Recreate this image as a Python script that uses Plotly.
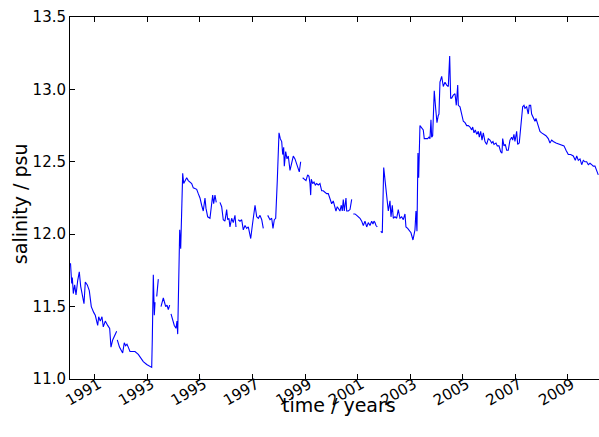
import datetime as dt
import plotly.graph_objects as go

# decimal years (None marks a gap in the record)
years = [
    1990.071, 1990.117, 1990.140, 1990.178, 1990.231, 1990.281, 1990.345, 1990.406, 1990.459, 1990.536,
    1990.585, 1990.635, 1990.711, 1990.787, 1990.863, 1990.954, 1991.015, 1991.107, 1991.145, 1991.206,
    1991.270, 1991.320, 1991.396, 1991.487, 1991.563, 1991.613, 1991.678, 1991.830, None,
    1991.853, 1991.936, 1992.058, 1992.119, 1992.172, 1992.222, 1992.271, 1992.336, 1992.450, 1992.526,
    1992.652, 1992.717, 1992.842, 1992.972, 1993.097, 1993.162, 1993.185, 1993.223, 1993.261, 1993.288, None,
    1993.353, 1993.391, 1993.413, None,
    1993.516, 1993.604, 1993.649, 1993.695, 1993.745, 1993.794, 1993.847, None,
    1993.897, 1993.946, 1994.022, 1994.087, 1994.125, 1994.152, 1994.201, 1994.228, 1994.266, 1994.304,
    1994.342, 1994.380, 1994.430, 1994.494, 1994.555, 1994.620, 1994.685, 1994.746, 1994.875, 1994.936,
    1995.001, 1995.065, 1995.126, 1995.191, 1995.229, 1995.294, 1995.343, 1995.381, 1995.446, 1995.484,
    1995.522, 1995.572, 1995.621, None,
    1995.762, 1995.827, 1995.888, 1995.952, 1996.017, 1996.055, 1996.104, 1996.142, 1996.207, 1996.268,
    1996.333, 1996.371, None,
    1996.459, 1996.523, 1996.588, 1996.649, 1996.714, 1996.778, 1996.839, 1996.931, 1996.992, 1997.045,
    1997.095, 1997.159, 1997.220, 1997.285, 1997.350, 1997.410, None,
    1997.578, 1997.665, 1997.730, 1997.779, 1997.829, 1997.882, 1997.943, 1998.008, 1998.057, 1998.111,
    1998.149, 1998.187, 1998.210, 1998.263, 1998.313, 1998.362, 1998.427, 1998.491, 1998.552, 1998.617,
    1998.682, 1998.743, 1998.781, 1998.834, None,
    1998.910, 1998.971, 1999.036, 1999.100, 1999.150, 1999.188, 1999.215, 1999.238, 1999.291, 1999.341,
    1999.390, 1999.443, 1999.504, 1999.569, 1999.634, 1999.694, 1999.759, 1999.824, 1999.885, 1999.950,
    2000.014, 2000.075, 2000.140, 2000.178, 2000.227, 2000.281, 2000.330, 2000.380, 2000.418, 2000.456,
    2000.494, 2000.558, 2000.585, 2000.646, 2000.711, 2000.775, None,
    2000.836, 2000.901, 2000.966, 2001.027, 2001.091, 2001.156, 2001.217, 2001.281, 2001.346, 2001.407,
    2001.472, 2001.536, 2001.586, 2001.624, 2001.662, 2001.700, 2001.750, None,
    2001.879, 2001.940, 2001.994, 2002.108, 2002.169, 2002.233, 2002.271, 2002.321, 2002.359, 2002.424,
    2002.488, 2002.549, 2002.614, 2002.679, 2002.740, 2002.804, 2002.842, 2002.907, 2002.956, 2003.033,
    2003.109, 2003.185, 2003.223, 2003.261, 2003.299, 2003.326, 2003.375, 2003.440, 2003.501, 2003.539,
    2003.592, 2003.668, 2003.718, 2003.756, 2003.794, 2003.821, 2003.859, 2003.920, 2003.973, 2004.023,
    2004.072, 2004.099, 2004.137, 2004.202, 2004.263, 2004.327, 2004.392, 2004.453, 2004.506, 2004.544,
    2004.582, 2004.643, 2004.708, 2004.757, 2004.811, 2004.834, 2004.898, 2004.963, 2005.024, 2005.089,
    2005.153, 2005.214, 2005.279, 2005.343, 2005.381, 2005.431, 2005.480, 2005.534, 2005.595, 2005.633,
    2005.686, 2005.736, 2005.785, 2005.850, 2005.914, 2005.975, 2006.040, 2006.105, 2006.154, 2006.192,
    2006.268, 2006.318, 2006.383, 2006.447, 2006.497, 2006.523, 2006.573, 2006.622, 2006.676, 2006.737,
    2006.801, 2006.866, 2006.904, 2006.953, 2006.991, 2007.056, 2007.094, 2007.155, 2007.209, 2007.285,
    2007.335, 2007.373, 2007.437, 2007.498, 2007.536, 2007.589, 2007.627, 2007.688, 2007.753, 2007.791,
    2007.841, 2007.894, 2007.944, 2008.008, 2008.096, 2008.172, 2008.259, 2008.324, 2008.389, 2008.450,
    2008.553, 2008.640, 2008.770, 2008.857, 2008.933, 2009.021, 2009.112, 2009.211, 2009.287, 2009.341,
    2009.402, 2009.466, 2009.531, 2009.592, 2009.657, 2009.721, 2009.782, 2009.847, 2009.911, 2009.972,
    2010.037, 2010.102, 2010.163,
]

salinity = [
    11.80, 11.66, 11.70, 11.59, 11.65, 11.58, 11.68, 11.74, 11.64, 11.58,
    11.52, 11.67, 11.65, 11.61, 11.50, 11.46, 11.44, 11.37, 11.43, 11.40,
    11.43, 11.36, 11.40, 11.37, 11.35, 11.22, 11.27, 11.33, None,
    11.27, 11.22, 11.18, 11.25, 11.23, 11.24, 11.22, 11.19, 11.19, 11.19,
    11.17, 11.15, 11.12, 11.10, 11.09, 11.08, 11.28, 11.72, 11.44, 11.53, None,
    11.57, 11.67, 11.69, None,
    11.50, 11.56, 11.53, 11.50, 11.51, 11.48, 11.51, None,
    11.45, 11.41, 11.37, 11.35, 11.40, 11.31, 11.90, 12.03, 11.90, 12.13,
    12.42, 12.35, 12.37, 12.39, 12.37, 12.36, 12.35, 12.32, 12.31, 12.28,
    12.25, 12.20, 12.16, 12.25, 12.18, 12.12, 12.11, 12.11, 12.21, 12.27,
    12.21, 12.27, 12.22, None,
    12.22, 12.19, 12.10, 12.09, 12.17, 12.10, 12.11, 12.05, 12.11, 12.08,
    12.13, 12.05, None,
    12.10, 12.09, 12.10, 12.03, 12.06, 12.04, 12.05, 11.97, 12.06, 12.13,
    12.20, 12.12, 12.11, 12.13, 12.10, 12.04, None,
    12.13, 12.10, 12.11, 12.04, 12.10, 12.11, 12.37, 12.70, 12.66, 12.64,
    12.55, 12.60, 12.47, 12.57, 12.52, 12.54, 12.44, 12.50, 12.54, 12.52,
    12.48, 12.46, 12.43, 12.50, None,
    12.39, 12.38, 12.37, 12.41, 12.40, 12.35, 12.27, 12.38, 12.35, 12.36,
    12.34, 12.35, 12.34, 12.35, 12.30, 12.30, 12.29, 12.28, 12.28, 12.25,
    12.21, 12.23, 12.18, 12.16, 12.19, 12.17, 12.16, 12.20, 12.16, 12.24,
    12.16, 12.25, 12.16, 12.16, 12.17, 12.24, None,
    12.14, 12.14, 12.13, 12.12, 12.11, 12.09, 12.06, 12.09, 12.05, 12.08,
    12.06, 12.09, 12.07, 12.09, 12.08, 12.06, 12.05, None,
    12.02, 12.01, 12.46, 12.27, 12.16, 12.23, 12.12, 12.20, 12.11, 12.12,
    12.11, 12.17, 12.11, 12.12, 12.10, 12.14, 12.05, 12.04, 12.03, 12.01,
    11.96, 12.03, 12.16, 12.02, 12.56, 12.39, 12.75, 12.73, 12.72, 12.66,
    12.66, 12.66, 12.67, 12.66, 12.79, 12.67, 12.68, 12.99, 12.87, 12.77,
    12.82, 12.83, 13.05, 13.09, 13.02, 13.05, 13.03, 13.02, 13.23, 12.94,
    12.94, 12.96, 12.97, 12.89, 13.03, 12.89, 12.88, 12.82, 12.78, 12.77,
    12.75, 12.75, 12.74, 12.72, 12.74, 12.70, 12.72, 12.69, 12.71, 12.67,
    12.71, 12.65, 12.70, 12.64, 12.62, 12.66, 12.65, 12.63, 12.64, 12.62,
    12.63, 12.61, 12.61, 12.57, 12.56, 12.66, 12.61, 12.62, 12.58, 12.58,
    12.65, 12.67, 12.65, 12.69, 12.64, 12.71, 12.62, 12.63, 12.74, 12.88,
    12.89, 12.87, 12.88, 12.83, 12.89, 12.89, 12.83, 12.81, 12.78, 12.80,
    12.77, 12.73, 12.71, 12.70, 12.69, 12.68, 12.66, 12.63, 12.65, 12.64,
    12.63, 12.625, 12.62, 12.61, 12.58, 12.55, 12.55, 12.54, 12.51, 12.54,
    12.51, 12.52, 12.48, 12.51, 12.50, 12.50, 12.48, 12.49, 12.48, 12.47,
    12.47, 12.44, 12.41,
]

x_tick_years = [1991, 1993, 1995, 1997, 1999, 2001, 2003, 2005, 2007, 2009]
y_ticks = [11.0, 11.5, 12.0, 12.5, 13.0, 13.5]
x_range_years = [1990.052, 2010.19]
x_title = "time / years"
y_title = "salinity / psu"


def to_date(y):
    if y is None:
        return None
    yr = int(y)
    start = dt.datetime(yr, 1, 1)
    end = dt.datetime(yr + 1, 1, 1)
    return start + (end - start) * (y - yr)


dates = [to_date(y) for y in years]

fig = go.Figure()
fig.add_trace(go.Scatter(
    x=dates, y=salinity, mode="lines",
    line=dict(color="#0000ff", width=1.1),
    connectgaps=False, showlegend=False, hoverinfo="skip",
))

font_family = "DejaVu Sans, sans-serif"
fig.update_layout(
    width=599, height=437,
    margin=dict(l=70, r=0, t=17, b=58, autoexpand=False),
    paper_bgcolor="white", plot_bgcolor="white",
    font=dict(family=font_family, color="black", size=15),
    showlegend=False,
    xaxis=dict(
        type="date", automargin=False,
        range=[to_date(x_range_years[0]), to_date(x_range_years[1])],
        tickvals=[dt.datetime(y, 1, 1) for y in x_tick_years],
        ticktext=[str(y) for y in x_tick_years],
        tickangle=-30, ticklabelstandoff=-10, ticklabelshift=4,
        ticks="inside", ticklen=5, tickcolor="black", tickwidth=1,
        showline=True, linecolor="black", linewidth=1, mirror="allticks",
        showgrid=False, zeroline=False,
        tickfont=dict(size=15),
    ),
    yaxis=dict(
        automargin=False,
        range=[11.0, 13.5],
        tickvals=y_ticks,
        ticktext=[f"{v:.1f}" for v in y_ticks],
        ticks="inside", ticklen=5, tickcolor="black", tickwidth=1,
        showline=True, linecolor="black", linewidth=1, mirror=False,
        showgrid=False, zeroline=False,
        tickfont=dict(size=15),
    ),
    annotations=[
        dict(text=x_title, xref="paper", yref="paper", x=0.5085, y=-0.073,
             xanchor="center", yanchor="middle", showarrow=False,
             font=dict(size=19)),
        dict(text=y_title, xref="paper", yref="paper", x=-0.0945, y=0.483,
             xanchor="center", yanchor="middle", showarrow=False, textangle=-90,
             font=dict(size=19)),
    ],
)

fig.write_html(
    "out.html",
    config={"displayModeBar": False},
    post_script="document.body.style.margin='0';document.body.style.overflow='hidden';",
)
